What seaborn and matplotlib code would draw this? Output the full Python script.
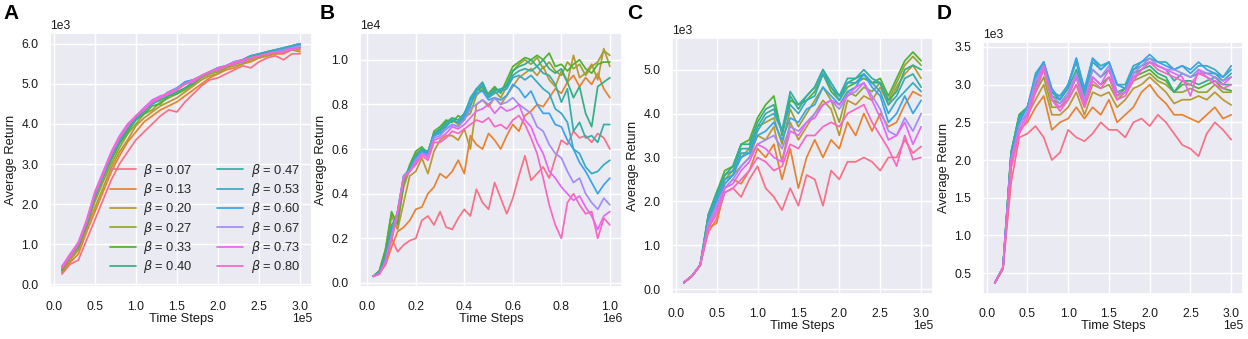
import matplotlib
matplotlib.use("Agg")
import matplotlib.pyplot as plt
import numpy as np
import pandas as pd
import seaborn as sns
from matplotlib.ticker import ScalarFormatter, MultipleLocator

# ---------------- data ----------------
betas = ["0.07", "0.13", "0.20", "0.27", "0.33", "0.40",
         "0.47", "0.53", "0.60", "0.67", "0.73", "0.80"]

steps_300k = [10000, 20000, 30000, 40000, 50000, 60000, 70000, 80000, 90000, 100000,
              110000, 120000, 130000, 140000, 150000, 160000, 170000, 180000, 190000, 200000,
              210000, 220000, 230000, 240000, 250000, 260000, 270000, 280000, 290000, 300000]

steps_1m = [25000, 50000, 75000, 100000, 125000, 150000, 175000, 200000, 225000, 250000,
            275000, 300000, 325000, 350000, 375000, 400000, 425000, 450000, 475000, 500000,
            525000, 550000, 575000, 600000, 625000, 650000, 675000, 700000, 725000, 750000,
            775000, 800000, 825000, 850000, 875000, 900000, 925000, 950000, 975000, 1000000]

# Panel A
a07 = [250, 500, 600, 1100, 1600, 2100, 2600, 3000, 3300, 3600, 3800, 4000, 4200, 4350, 4300, 4550, 4750, 4950, 5100, 5150, 5250, 5350, 5450, 5400, 5550, 5650, 5700, 5600, 5750, 5750]
a13 = [300, 550, 750, 1300, 1800, 2300, 2800, 3200, 3550, 3800, 4050, 4200, 4350, 4450, 4550, 4700, 4850, 5000, 5150, 5250, 5350, 5400, 5500, 5550, 5650, 5700, 5750, 5750, 5850, 5800]
a20 = [300, 600, 850, 1400, 1900, 2400, 2900, 3300, 3600, 3950, 4150, 4300, 4450, 4550, 4650, 4800, 4950, 5100, 5200, 5250, 5400, 5450, 5500, 5600, 5650, 5700, 5750, 5800, 5850, 5850]
a27 = [350, 650, 900, 1450, 2050, 2550, 3000, 3400, 3750, 4000, 4250, 4350, 4550, 4650, 4750, 4850, 5000, 5150, 5250, 5300, 5400, 5500, 5550, 5650, 5700, 5750, 5800, 5850, 5900, 5900]
a33 = [350, 700, 950, 1450, 2150, 2650, 3100, 3500, 3800, 4100, 4250, 4450, 4500, 4700, 4750, 4900, 5000, 5200, 5300, 5350, 5450, 5500, 5600, 5650, 5700, 5800, 5800, 5850, 5900, 5950]
a40 = [400, 700, 950, 1500, 2200, 2700, 3150, 3550, 3850, 4100, 4300, 4500, 4600, 4700, 4800, 4900, 5050, 5200, 5300, 5350, 5450, 5500, 5600, 5700, 5700, 5800, 5850, 5850, 5950, 6000]
a47 = [400, 700, 1000, 1550, 2200, 2750, 3200, 3600, 3900, 4150, 4350, 4550, 4650, 4750, 4850, 5000, 5050, 5200, 5300, 5400, 5450, 5550, 5600, 5700, 5750, 5800, 5850, 5900, 5950, 6000]
a53 = [400, 750, 1000, 1550, 2250, 2750, 3250, 3650, 3950, 4150, 4400, 4550, 4650, 4800, 4850, 5050, 5100, 5200, 5300, 5400, 5450, 5550, 5600, 5700, 5750, 5800, 5850, 5900, 5950, 6000]
a60 = [400, 700, 1000, 1500, 2200, 2700, 3200, 3600, 3950, 4150, 4350, 4500, 4650, 4800, 4900, 5050, 5100, 5200, 5300, 5350, 5450, 5500, 5550, 5650, 5700, 5750, 5800, 5850, 5900, 6000]
a67 = [400, 700, 1000, 1550, 2250, 2750, 3250, 3650, 3950, 4200, 4400, 4550, 4650, 4750, 4900, 5000, 5100, 5200, 5300, 5350, 5450, 5550, 5600, 5650, 5700, 5750, 5800, 5850, 5900, 5950]
a73 = [450, 750, 1050, 1600, 2300, 2800, 3300, 3700, 4000, 4200, 4400, 4600, 4700, 4750, 4850, 5000, 5050, 5200, 5300, 5400, 5450, 5550, 5550, 5650, 5700, 5750, 5800, 5800, 5900, 5900]
a80 = [400, 700, 1000, 1550, 2250, 2750, 3250, 3650, 3950, 4200, 4350, 4550, 4650, 4800, 4850, 5000, 5100, 5200, 5300, 5350, 5450, 5500, 5600, 5650, 5700, 5750, 5800, 5800, 5850, 5900]

# Panel B
b07 = [300, 450, 900, 2000, 1400, 1700, 1900, 2000, 2800, 3000, 2600, 3200, 2500, 2400, 2900, 3300, 3000, 4200, 3600, 3300, 4500, 3800, 3100, 3800, 4800, 5700, 4600, 4900, 5200, 4700, 5600, 6400, 6200, 6800, 6500, 6600, 6300, 6700, 6500, 6000]
b13 = [300, 450, 800, 1600, 2300, 2500, 2800, 3300, 3400, 4000, 4300, 4900, 4700, 5000, 5500, 4900, 6600, 6200, 6000, 6700, 6400, 6000, 6600, 7100, 6800, 7500, 7700, 8000, 7900, 8300, 8700, 8500, 9000, 9300, 8800, 9200, 8900, 9400, 8700, 8300]
b20 = [300, 500, 1300, 3000, 2400, 3600, 4800, 5000, 5600, 4900, 5900, 6400, 6600, 6600, 6400, 6900, 6000, 8000, 8200, 7900, 8300, 8000, 8400, 8800, 9200, 9400, 9600, 9300, 9700, 9100, 8800, 9500, 9000, 10200, 9200, 9400, 9800, 9100, 10500, 9700]
b27 = [300, 550, 1500, 3100, 2700, 4300, 5100, 5800, 6000, 5700, 6700, 6800, 7100, 7300, 7100, 7400, 7600, 8400, 8700, 8300, 8600, 8300, 8800, 9500, 9800, 10000, 9800, 10100, 9600, 9900, 9500, 9300, 9900, 9600, 9800, 9300, 9700, 9900, 10400, 10200]
b33 = [300, 550, 1500, 3200, 2600, 4500, 5300, 5900, 6100, 5800, 6800, 7000, 7300, 7200, 7500, 7300, 7900, 8700, 8600, 8500, 8800, 8500, 9100, 9700, 9900, 10100, 10000, 10200, 10000, 10300, 9700, 9800, 9500, 9800, 10000, 9600, 9400, 9800, 9900, 9900]
b40 = [300, 500, 1300, 2600, 3000, 4600, 5200, 5700, 6000, 5900, 6700, 6900, 7200, 7400, 7300, 7600, 8200, 8600, 8800, 8400, 8700, 8600, 8900, 9500, 9700, 9800, 10000, 9700, 10000, 9600, 9400, 9600, 9000, 8300, 8800, 7600, 7000, 8800, 9000, 9200]
b47 = [300, 450, 1200, 2400, 3100, 4700, 5100, 5700, 6000, 5800, 6700, 6800, 7100, 7300, 7200, 7500, 8300, 8700, 9000, 8400, 8600, 8700, 8800, 9300, 9500, 9600, 9500, 9700, 9400, 9300, 8900, 8100, 8700, 6800, 7200, 6500, 6600, 6300, 7100, 7100]
b53 = [300, 450, 1100, 2300, 3200, 4800, 5100, 5600, 5900, 5800, 6600, 6800, 7000, 7300, 7200, 7600, 8200, 8600, 8900, 8300, 8500, 8600, 8700, 9200, 9300, 9100, 9300, 9000, 8700, 8500, 7800, 7600, 7200, 6000, 5800, 5200, 4900, 5000, 5300, 5500]
b60 = [300, 450, 1000, 2200, 3200, 4800, 5000, 5600, 5900, 5700, 6600, 6700, 6900, 7100, 7000, 7400, 8000, 8500, 8600, 8200, 8300, 8200, 8400, 8900, 8700, 8300, 8600, 8000, 7600, 7600, 7100, 7000, 6400, 6000, 5400, 5000, 4500, 4000, 4400, 4700]
b67 = [300, 400, 1000, 2100, 3200, 4800, 5000, 5500, 5800, 5700, 6500, 6600, 6900, 7100, 7000, 7300, 7800, 8000, 8200, 8000, 8300, 8000, 8100, 8300, 8000, 7800, 7600, 7000, 6800, 6200, 5800, 5600, 5000, 4500, 4700, 4000, 3600, 3300, 3800, 3500]
b73 = [300, 400, 900, 2000, 3200, 4700, 5000, 5400, 5800, 5600, 6400, 6500, 6700, 7000, 6900, 7100, 7400, 7700, 7800, 8000, 7600, 7900, 7700, 7800, 8000, 7300, 7000, 6300, 5800, 5000, 4700, 4300, 4000, 3700, 3900, 3400, 3000, 2400, 3000, 3200]
b80 = [300, 400, 900, 1900, 3100, 4700, 5000, 5300, 5700, 5500, 6300, 6300, 6500, 6800, 6700, 6900, 7100, 7300, 7200, 7400, 7000, 7100, 6900, 7300, 7500, 7100, 6500, 5800, 4700, 3500, 2600, 2000, 3600, 4000, 3500, 3100, 3200, 2000, 2900, 2600]

# Panel C
c07 = [150, 300, 550, 1300, 1600, 2200, 2300, 2100, 2500, 2800, 2300, 2100, 1800, 2300, 1900, 2600, 2500, 1900, 2700, 2500, 2900, 2900, 3000, 2900, 2700, 3000, 3000, 3400, 3100, 3250]
c13 = [150, 300, 550, 1400, 1500, 2300, 2500, 2400, 2700, 3200, 3000, 3300, 2500, 3200, 2300, 3000, 3400, 3000, 3400, 3200, 3800, 3500, 4000, 3600, 4000, 3700, 3800, 4200, 4500, 4400]
c20 = [150, 300, 550, 1500, 1800, 2400, 2600, 2800, 3000, 3500, 3400, 3700, 2900, 3800, 3400, 3700, 4000, 4300, 4100, 3500, 4300, 4200, 4400, 4300, 4600, 4200, 4600, 4900, 5100, 4800]
c27 = [150, 300, 550, 1600, 2000, 2500, 2700, 3000, 3200, 3700, 3800, 3900, 3300, 4100, 3700, 4000, 4300, 4600, 4300, 3800, 4500, 4400, 4600, 4500, 4700, 4300, 4700, 5100, 5300, 5100]
c33 = [150, 300, 550, 1700, 2200, 2700, 2800, 3300, 3400, 3900, 4200, 4400, 3500, 4300, 4200, 4300, 4500, 4900, 4500, 4300, 4600, 4700, 4800, 4700, 4800, 4400, 4800, 5200, 5400, 5200]
c40 = [150, 300, 550, 1700, 2200, 2600, 2800, 3300, 3300, 3800, 4100, 4200, 3600, 4400, 4100, 4400, 4600, 5000, 4600, 4400, 4700, 4800, 4900, 4700, 4700, 4300, 4500, 5000, 5100, 5000]
c47 = [150, 300, 550, 1700, 2100, 2600, 2700, 3200, 3200, 3700, 4000, 4100, 3600, 4500, 4200, 4400, 4600, 5000, 4700, 4400, 4800, 4800, 5000, 4800, 4700, 4200, 4400, 4800, 4900, 4600]
c53 = [150, 300, 550, 1600, 2100, 2500, 2600, 3100, 3100, 3600, 3900, 4000, 3600, 4200, 4000, 4300, 4400, 4900, 4600, 4300, 4700, 4700, 4900, 4700, 4500, 4000, 4300, 4500, 4700, 4500]
c60 = [150, 300, 550, 1500, 2000, 2400, 2600, 3000, 3100, 3500, 3600, 3800, 3400, 3900, 3800, 4100, 4200, 4600, 4400, 4200, 4500, 4600, 4900, 4600, 4400, 3800, 4000, 4400, 4000, 4300]
c67 = [150, 300, 550, 1500, 1900, 2300, 2500, 2800, 3000, 3300, 3400, 3500, 3200, 3700, 3600, 3800, 4000, 4200, 4300, 4100, 4400, 4500, 4700, 4400, 4100, 3600, 3500, 3900, 3600, 4000]
c73 = [150, 300, 550, 1400, 1800, 2300, 2400, 2700, 2900, 3300, 3200, 3000, 2900, 3600, 3500, 3800, 3900, 4200, 4300, 4200, 4400, 4600, 4700, 4300, 3900, 3400, 3500, 3800, 3300, 3700]
c80 = [150, 300, 550, 1400, 1700, 2200, 2300, 2500, 2700, 3000, 2900, 2700, 2800, 3300, 3200, 3500, 3500, 3700, 3800, 3700, 4000, 4100, 4200, 3800, 3500, 3200, 2800, 3500, 2950, 3000]

# Panel D
d07 = [370, 550, 1700, 2300, 2350, 2450, 2300, 2000, 2100, 2400, 2300, 2250, 2350, 2500, 2400, 2400, 2300, 2500, 2550, 2450, 2600, 2500, 2350, 2200, 2150, 2050, 2350, 2500, 2400, 2270]
d13 = [370, 560, 1900, 2400, 2500, 2700, 2850, 2400, 2500, 2550, 2700, 2550, 2700, 2600, 2800, 2500, 2600, 2700, 2900, 3000, 2850, 2750, 2600, 2600, 2550, 2500, 2600, 2700, 2550, 2600]
d20 = [370, 570, 2000, 2500, 2600, 2800, 3000, 2600, 2600, 2700, 2900, 2600, 2900, 2850, 2900, 2700, 2800, 2950, 3000, 3100, 3000, 2900, 2750, 2800, 2800, 2850, 2800, 2900, 2800, 2730]
d27 = [370, 570, 2100, 2600, 2700, 2900, 3100, 2700, 2700, 2800, 3000, 2700, 3000, 2950, 3000, 2800, 2900, 3050, 3100, 3150, 3050, 3000, 2900, 2900, 2950, 2900, 2900, 3000, 2900, 2900]
d33 = [370, 570, 2100, 2600, 2700, 3000, 3200, 2800, 2750, 2850, 3100, 2750, 3100, 3000, 3100, 2850, 2950, 3100, 3150, 3200, 3100, 3050, 2900, 3000, 3000, 2950, 3000, 3050, 2950, 2920]
d40 = [370, 570, 2100, 2600, 2700, 3050, 3250, 2850, 2800, 2950, 3200, 2850, 3200, 3100, 3200, 2900, 2950, 3150, 3200, 3250, 3150, 3100, 2900, 3050, 3050, 3000, 3050, 3100, 3000, 3000]
d47 = [370, 570, 2100, 2550, 2700, 3100, 3300, 2900, 2800, 3000, 3300, 2850, 3300, 3200, 3300, 3000, 2950, 3200, 3250, 3300, 3250, 3200, 3050, 3150, 3100, 3150, 3150, 3150, 3050, 3150]
d53 = [370, 570, 2050, 2550, 2700, 3150, 3300, 2900, 2850, 3000, 3350, 2900, 3350, 3250, 3300, 3000, 3000, 3250, 3300, 3350, 3300, 3300, 3200, 3250, 3150, 3250, 3250, 3200, 3100, 3250]
d60 = [370, 570, 2000, 2500, 2700, 3100, 3300, 2950, 2800, 3000, 3350, 2950, 3350, 3200, 3300, 3000, 2950, 3200, 3300, 3400, 3300, 3250, 3200, 3250, 3200, 3300, 3200, 3150, 3100, 3200]
d67 = [370, 570, 2000, 2450, 2650, 3050, 3250, 2850, 2750, 2900, 3150, 2800, 3200, 3100, 3250, 2900, 2900, 3150, 3250, 3350, 3250, 3200, 3200, 3150, 3100, 3200, 3150, 3100, 3050, 3100]
d73 = [370, 570, 2000, 2400, 2600, 2950, 3250, 2800, 2700, 2850, 3100, 2750, 3100, 3000, 3200, 2850, 2900, 3100, 3200, 3300, 3250, 3200, 3150, 3100, 2850, 3200, 3100, 3050, 3000, 3100]
d80 = [370, 570, 1900, 2350, 2550, 2900, 3200, 2800, 2650, 2800, 3000, 2700, 3050, 2950, 3100, 2800, 2850, 3050, 3200, 3300, 3200, 3150, 3100, 3050, 3000, 3150, 3100, 3000, 2950, 3000]

panel_series = {
    "A": (steps_300k, [a07, a13, a20, a27, a33, a40, a47, a53, a60, a67, a73, a80]),
    "B": (steps_1m, [b07, b13, b20, b27, b33, b40, b47, b53, b60, b67, b73, b80]),
    "C": (steps_300k, [c07, c13, c20, c27, c33, c40, c47, c53, c60, c67, c73, c80]),
    "D": (steps_300k, [d07, d13, d20, d27, d33, d40, d47, d53, d60, d67, d73, d80]),
}

# ---------------- style ----------------
sns.set_theme(style="darkgrid")
plt.rcParams["font.family"] = ["Liberation Sans", "DejaVu Sans"]
TXT = "#1a1a1a"

labels = [r"$\beta$ = " + b for b in betas]
palette = dict(zip(labels, sns.color_palette("husl", 12)))


class OneDecimalFormatter(ScalarFormatter):
    def _set_format(self):
        self.format = "%1.1f"


W, H = 1248, 339
fig = plt.figure(figsize=(W / 100, H / 100), dpi=100)

# axes boxes in pixels: left, top, right, bottom
boxes = {
    "A": (50, 33, 312, 287),
    "B": (360, 33, 622, 287),
    "C": (672, 38, 933, 294),
    "D": (983, 42, 1243, 294),
}
ylims = {"A": (-70, 6270), "B": (-180, 11200), "C": (-110, 5720), "D": (222, 3566)}
xlims = {"A": (-4500, 314500), "B": (-30000, 1050000), "C": (-4500, 314500), "D": (-4500, 314500)}
yticks = {"A": 1000, "B": 2000, "C": 1000, "D": 500}
xticks = {"A": 50000, "B": 200000, "C": 50000, "D": 50000}
letter_x = {"A": 3, "B": 320, "C": 627, "D": 937}

axes = {}
for key, (steps, series) in panel_series.items():
    l, t, r, b = boxes[key]
    ax = fig.add_axes([l / W, 1 - b / H, (r - l) / W, (b - t) / H])
    axes[key] = ax
    rows = []
    for lab, vals in zip(labels, series):
        for s, v in zip(steps, vals):
            rows.append((s, v, lab))
    df = pd.DataFrame(rows, columns=["Time Steps", "Average Return", "beta"])
    sns.lineplot(data=df, x="Time Steps", y="Average Return", hue="beta",
                 hue_order=labels, palette=palette, linewidth=1.25,
                 errorbar=None, ax=ax, legend=(key == "A"))
    ax.set_xlim(*xlims[key])
    ax.set_ylim(*ylims[key])
    ax.xaxis.set_major_locator(MultipleLocator(xticks[key]))
    ax.yaxis.set_major_locator(MultipleLocator(yticks[key]))
    for axis in (ax.xaxis, ax.yaxis):
        f = OneDecimalFormatter()
        f.set_powerlimits((0, 0))
        axis.set_major_formatter(f)
    ax.tick_params(axis="x", labelsize=8.7, pad=4.3, labelcolor=TXT)
    ax.tick_params(axis="y", labelsize=8.7, pad=2.5, labelcolor=TXT)
    ax.set_xlabel("Time Steps", fontsize=9.3, labelpad=-0.5, color=TXT)
    ax.set_ylabel("Average Return", fontsize=9.3, labelpad=3, color=TXT)
    fig.text(letter_x[key] / W, 1 - 4 / H, key, fontsize=15, fontweight="bold",
             ha="left", va="top", color="black")
    if key == "A":
        sns.move_legend(ax, "lower right", ncol=2, frameon=False, title=None,
                        fontsize=9.3, columnspacing=1.9, labelspacing=0.18,
                        handlelength=2.0, handletextpad=0.6, borderaxespad=0.5)

# place the scale (offset) labels like the reference
fig.canvas.draw()
for key, ax in axes.items():
    xoff = ax.xaxis.get_major_formatter().get_offset()
    yoff = ax.yaxis.get_major_formatter().get_offset()
    ax.xaxis.get_offset_text().set_visible(False)
    ax.yaxis.get_offset_text().set_visible(False)
    ax.annotate(yoff, xy=(0, 1), xycoords="axes fraction", xytext=(0, 5.2),
                textcoords="offset points", ha="left", va="center",
                fontsize=8.7, color=TXT)
    ax.annotate(xoff, xy=(1, 0), xycoords="axes fraction", xytext=(0, -22.8),
                textcoords="offset points", ha="right", va="center",
                fontsize=8.7, color=TXT)

fig.savefig("out.png", dpi=100)
